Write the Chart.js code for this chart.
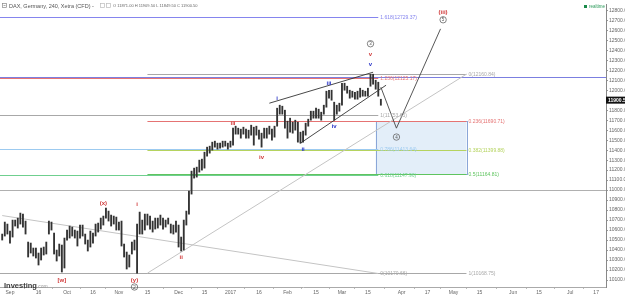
<!DOCTYPE html>
<html>
<head>
<meta charset="utf-8">
<script src="https://cdn.jsdelivr.net/npm/chart.js@4.4.0/dist/chart.umd.min.js"></script>
<style>
  html, body { margin: 0; padding: 0; background: #fff; }
  canvas { display: block; }
</style>
</head>
<body>
<canvas id="c" width="625" height="297"></canvas>
<script>
// trading calendar of the chart (weekdays, minus exchange holidays)
var firstDay = '2016-08-29';
var lastDay = '2017-07-31';
var holidays = ['2016-12-26'];

// daily low / high, Aug 29 2016 .. Mar 22 2017
var lows = [
  10500, 10540, 10560,
  // Sep
  10470, 10530, 10640, 10620, 10660, 10630, 10560, 10330, 10370, 10340, 10320,
  10250, 10300, 10350, 10360, 10560, 10600, 10360, 10290, 10340, 10180, 10220,
  // Oct
  10500, 10520, 10540, 10520, 10440, 10520, 10540, 10460, 10390, 10430, 10470,
  10540, 10580, 10610, 10650, 10720, 10690, 10640, 10660, 10600, 10600,
  // Nov
  10440, 10330, 10210, 10230, 10360, 10400, 10168, 10560, 10560, 10600, 10650,
  10610, 10580, 10610, 10620, 10650, 10610, 10630, 10660, 10570, 10560, 10580,
  // Dec
  10430, 10390, 10400, 10650, 10760, 10960, 11120, 11130, 11180, 11200, 11220,
  11340, 11370, 11400, 11430, 11410, 11420, 11430, 11440, 11410, 11430,
  // Jan
  11450, 11560, 11560, 11520, 11560, 11520, 11520, 11550, 11450, 11550, 11510,
  11430, 11520, 11520, 11560, 11500, 11530, 11640, 11760, 11760, 11620, 11520,
  // Feb
  11580, 11570, 11600, 11480, 11470, 11480, 11550, 11640, 11700, 11720, 11720,
  11720, 11700, 11760, 11830, 11920, 11900, 11700, 11760, 11790,
  // Mar
  11850, 12000, 11970, 11920, 11930, 11910, 11910, 11930, 11940, 11940, 11940,
  12040, 12060, 12010, 11940, 11849.5
];
var highs = [
  10560, 10680, 10660,
  // Sep
  10590, 10700, 10700, 10720, 10770, 10760, 10690, 10480, 10470, 10420, 10420,
  10370, 10420, 10430, 10480, 10690, 10680, 10570, 10400, 10460, 10450, 10520,
  // Oct
  10600, 10640, 10630, 10600, 10590, 10650, 10650, 10560, 10500, 10590, 10570,
  10660, 10670, 10720, 10740, 10820, 10790, 10750, 10740, 10730, 10680,
  // Nov
  10690, 10460, 10380, 10350, 10480, 10500, 10660, 10780, 10700, 10760, 10760,
  10740, 10690, 10720, 10720, 10750, 10720, 10700, 10720, 10660, 10650, 10690,
  // Dec
  10650, 10530, 10700, 10790, 10990, 11190, 11220, 11230, 11300, 11310, 11380,
  11430, 11440, 11480, 11490, 11470, 11470, 11490, 11490, 11470, 11490,
  // Jan
  11620, 11640, 11620, 11610, 11630, 11610, 11600, 11650, 11630, 11640, 11600,
  11570, 11620, 11620, 11640, 11610, 11640, 11820, 11850, 11840, 11800, 11690,
  // Feb
  11720, 11680, 11700, 11680, 11580, 11590, 11670, 11710, 11790, 11790, 11820,
  11810, 11780, 11850, 11990, 12000, 12000, 11880, 11850, 11870,
  // Mar
  12070, 12070, 12040, 12000, 11990, 11980, 11990, 12020, 12000, 11990, 12020,
  12160, 12160, 12100, 12080, 11909.5
];

var lastPrice = 11900.50;
var headerText = 'DAX, Germany, 240, Xetra (CFD) -';
var ohlcText = 'O 11871.00 H 11909.50 L 11849.50 C 11900.50';

// x axis tick labels
var tickDates = ['2016-09-01', '2016-09-16', '2016-10-03', '2016-10-17', '2016-10-31', '2016-11-15',
  '2016-12-01', '2016-12-15', '2016-12-30', '2017-01-16', '2017-01-31', '2017-02-15', '2017-03-01',
  '2017-03-15', '2017-04-03', '2017-04-17', '2017-05-01', '2017-05-15', '2017-06-01', '2017-06-15',
  '2017-07-03', '2017-07-17'];
var tickNames = ['Sep', '16', 'Oct', '16', 'Nov', '15', 'Dec', '15', '2017', '16', 'Feb', '15', 'Mar',
  '15', 'Apr', '17', 'May', '15', 'Jun', '15', 'Jul', '17'];

// y axis tick labels
var priceTicks = [];
for (var p = 10100; p <= 12800; p += 100) priceTicks.push(p);

// fib retracement 12160.84 -> 10168.75
var fibAFrom = '2016-11-15', fibATo = '2017-05-08';
var fibARatios = [0, 0.236, 0.382, 0.5, 1];
var fibAPrices = [12160.84, 11690.71, 11399.88, 11164.81, 10168.75];
var fibAColors = ['#a8a8a8', '#e57373', '#b5d35f', '#5fc45f', '#a8a8a8'];

// fib extension 10170.66 -> 11753.65 (extended left)
var fibBTo = '2017-03-21';
var fibBRatios = [1.618, 1.236, 1, 0.786, 0.618, 0];
var fibBPrices = [12729.37, 12125.17, 11753.65, 11413.64, 11147.96, 10170.66];
var fibBColors = ['#8585ee', '#e57373', '#a8a8a8', '#9ccaf0', '#6fcf8f', '#a8a8a8'];

// horizontal lines across the whole chart
var fullLinePrices = [12130, 11000];
var fullLineColors = ['#7b7fe0', '#b0b0b0'];

// target zone box
var boxFrom = '2017-03-20', boxTo = '2017-05-08';
var boxTop = 11690.71, boxBottom = 11164.81;

// trend lines [date, price] pairs
var wedgeUpper = [['2017-01-20', 11870], ['2017-03-17', 12180]];
var wedgeLower = [['2017-02-07', 11470], ['2017-03-24', 12050]];
var projection = [['2017-03-22', 12030], ['2017-03-30', 11620], ['2017-04-24', 12614]];
var downTrend = [['2016-08-29', 10745], ['2017-03-21', 10165]];

// Elliott wave labels
var waveText = ['(iii)', '5', '3', 'v', 'v', 'i', 'iii', 'iii', 'iv', 'iv', 'ii', '4', '(x)', 'i', 'ii', '[w]', '(y)', '2'];
var waveDate = ['2017-04-25', '2017-04-25', '2017-03-16', '2017-03-16', '2017-03-16', '2017-01-25', '2017-02-22',
  '2017-01-02', '2017-01-17', '2017-02-24', '2017-02-08', '2017-03-30', '2016-10-21', '2016-11-09', '2016-12-02',
  '2016-09-29', '2016-11-08', '2016-11-08'];
var wavePrice = [12775, 12705, 12465, 12356, 12256, 11918, 12067, 11670, 11332, 11640, 11412, 11531, 10865,
  10855, 10329, 10100, 10095, 10030];
var waveKind = ['red', 'circle', 'circle', 'red', 'blue', 'blue', 'blue', 'red', 'red', 'blue', 'blue', 'circle',
  'red', 'red', 'red', 'red', 'red', 'circle'];

var days = [];
var d = new Date(firstDay + 'T12:00:00Z');
var end = new Date(lastDay + 'T12:00:00Z');
while (d <= end) {
  var s = d.toISOString().slice(0, 10), wd = d.getUTCDay();
  if (wd !== 0 && wd !== 6 && holidays.indexOf(s) < 0) days.push(s);
  d.setUTCDate(d.getUTCDate() + 1);
}
function idx(s) { return days.indexOf(s); }

var bars = lows.map(function (l, i) { return { x: i, y: [l, highs[i]] }; });

var FONT = '"Liberation Sans", Arial, sans-serif';
var waveColors = { red: '#d03a3a', blue: '#2a35c8', circle: '#666' };

function seg(ctx, x0, y0, x1, y1, color) {
  ctx.strokeStyle = color;
  ctx.beginPath();
  ctx.moveTo(x0, y0);
  ctx.lineTo(x1, y1);
  ctx.stroke();
}

var overlay = {
  id: 'overlay',
  beforeDatasetsDraw: function (chart) {
    var ctx = chart.ctx, a = chart.chartArea, xs = chart.scales.x, ys = chart.scales.y;
    var X = function (dt) { return xs.getPixelForValue(idx(dt)); };
    var Y = function (v) { return Math.round(ys.getPixelForValue(v)) + 0.5; };
    ctx.save();
    ctx.beginPath();
    ctx.rect(a.left, a.top, a.right - a.left, a.bottom - a.top);
    ctx.clip();
    ctx.lineWidth = 1;

    fullLinePrices.forEach(function (v, i) { seg(ctx, a.left, Y(v), a.right, Y(v), fullLineColors[i]); });

    // box
    var bx0 = X(boxFrom), bx1 = X(boxTo), by0 = Y(boxTop), by1 = Y(boxBottom);
    ctx.fillStyle = 'rgba(208, 226, 245, 0.6)';
    ctx.fillRect(bx0, by0, bx1 - bx0, by1 - by0);
    ctx.strokeStyle = '#8aa6d8';
    ctx.strokeRect(Math.round(bx0) + 0.5, by0, Math.round(bx1 - bx0), by1 - by0);

    fibBPrices.forEach(function (v, i) { seg(ctx, a.left, Y(v), X(fibBTo), Y(v), fibBColors[i]); });
    fibAPrices.forEach(function (v, i) { seg(ctx, X(fibAFrom), Y(v), X(fibATo), Y(v), fibAColors[i]); });

    // fib trend diagonal and long down trend
    seg(ctx, X(fibAFrom), ys.getPixelForValue(fibAPrices[4]), X(fibATo), ys.getPixelForValue(fibAPrices[0]), '#c4c4c4');
    seg(ctx, X(downTrend[0][0]), ys.getPixelForValue(downTrend[0][1]),
      X(downTrend[1][0]), ys.getPixelForValue(downTrend[1][1]), '#c4c4c4');
    ctx.restore();
  },
  afterDatasetsDraw: function (chart) {
    var ctx = chart.ctx, xs = chart.scales.x, ys = chart.scales.y;
    var X = function (dt) { return xs.getPixelForValue(idx(dt)); };
    var Y = function (v) { return ys.getPixelForValue(v); };
    ctx.save();
    ctx.lineWidth = 0.9;
    [wedgeUpper, wedgeLower].forEach(function (ln) {
      seg(ctx, X(ln[0][0]), Y(ln[0][1]), X(ln[1][0]), Y(ln[1][1]), '#333');
    });
    ctx.strokeStyle = '#444';
    ctx.beginPath();
    projection.forEach(function (pt, i) {
      if (i === 0) ctx.moveTo(X(pt[0]), Y(pt[1])); else ctx.lineTo(X(pt[0]), Y(pt[1]));
    });
    ctx.stroke();

    // fib labels
    ctx.font = '5px ' + FONT;
    ctx.textBaseline = 'middle';
    ctx.textAlign = 'left';
    fibAPrices.forEach(function (v, i) {
      ctx.fillStyle = fibAColors[i];
      ctx.fillText(fibARatios[i] + '(' + v.toFixed(2) + ')', X(fibATo) + 2, Y(v) + 0.5);
    });
    fibBPrices.forEach(function (v, i) {
      ctx.fillStyle = fibBColors[i];
      ctx.fillText(fibBRatios[i] + '(' + v.toFixed(2) + ')', X(fibBTo) + 2, Y(v) + 0.5);
    });

    // wave labels
    ctx.textAlign = 'center';
    waveText.forEach(function (t, i) {
      var px = X(waveDate[i]), py = Y(wavePrice[i]);
      if (waveKind[i] === 'circle') {
        ctx.strokeStyle = '#666';
        ctx.lineWidth = 0.8;
        ctx.beginPath();
        ctx.arc(px, py, 3.2, 0, Math.PI * 2);
        ctx.stroke();
        ctx.fillStyle = '#555';
        ctx.font = '4.5px ' + FONT;
        ctx.fillText(t, px, py + 0.3);
      } else {
        ctx.fillStyle = waveColors[waveKind[i]];
        ctx.font = 'bold 6px ' + FONT;
        ctx.fillText(t, px, py);
      }
    });
    ctx.restore();
  },
  afterDraw: function (chart) {
    var ctx = chart.ctx, a = chart.chartArea, ys = chart.scales.y;
    ctx.save();
    // header
    ctx.strokeStyle = '#888';
    ctx.lineWidth = 0.7;
    ctx.strokeRect(2.5, 3.5, 4, 4);
    seg(ctx, 3.5, 5.5, 5.5, 5.5, '#888');
    ctx.fillStyle = '#555';
    ctx.font = '5.5px ' + FONT;
    ctx.textBaseline = 'middle';
    ctx.fillText(headerText, 9, 6);
    ctx.strokeStyle = '#bbb';
    ctx.strokeRect(100.5, 3.5, 4, 4);
    ctx.strokeRect(106.5, 3.5, 4, 4);
    ctx.font = '4px ' + FONT;
    ctx.fillStyle = '#666';
    ctx.fillText(ohlcText, 113, 6);

    // realtime badge
    ctx.fillStyle = '#1a8a4a';
    ctx.fillRect(584, 5, 3, 3);
    ctx.font = '4.5px ' + FONT;
    ctx.fillStyle = '#2a9a5a';
    ctx.fillText('realtime', 589, 6.5);

    // last price box
    var py = ys.getPixelForValue(lastPrice);
    ctx.fillStyle = '#111';
    ctx.fillRect(a.right, py - 3.5, 625 - a.right, 7);
    ctx.fillStyle = '#fff';
    ctx.font = 'bold 5px ' + FONT;
    ctx.fillText(lastPrice.toFixed(2), a.right + 2, py);

    // logo
    ctx.textBaseline = 'alphabetic';
    ctx.font = 'bold 7.5px ' + FONT;
    ctx.fillStyle = '#3a3a3a';
    ctx.fillText('Investing', 4, 288);
    var w = ctx.measureText('Investing').width;
    ctx.font = '5px ' + FONT;
    ctx.fillStyle = '#999';
    ctx.fillText('.com', 4 + w, 288);
    ctx.restore();
  }
};

new Chart(document.getElementById('c'), {
  type: 'bar',
  data: {
    datasets: [{
      data: bars,
      backgroundColor: '#333',
      borderWidth: 0,
      barThickness: 1.2
    }]
  },
  options: {
    responsive: false,
    animation: false,
    events: [],
    layout: { padding: 0 },
    plugins: { legend: { display: false }, tooltip: { enabled: false } },
    scales: {
      x: {
        type: 'linear',
        min: -0.85,
        max: 232.8,
        offset: false,
        grid: { display: true, drawOnChartArea: false, tickLength: 2, color: '#bbb' },
        border: { color: '#aaa' },
        ticks: {
          font: { size: 5, family: FONT },
          color: '#666',
          padding: 1,
          autoSkip: false,
          maxRotation: 0,
          callback: function (v, i) { return tickNames[i]; }
        },
        afterBuildTicks: function (s) { s.ticks = tickDates.map(function (dt) { return { value: idx(dt) }; }); }
      },
      y: {
        position: 'right',
        min: 10030,
        max: 12863,
        grid: { display: true, drawOnChartArea: false, tickLength: 2, color: '#999' },
        border: { color: '#888' },
        ticks: {
          font: { size: 5, family: FONT },
          color: '#666',
          padding: 1,
          callback: function (v) { return v === 11900 ? '' : v.toFixed(2); }
        },
        afterBuildTicks: function (s) { s.ticks = priceTicks.map(function (v) { return { value: v }; }); },
        afterFit: function (s) { s.width = 19; }
      }
    }
  },
  plugins: [overlay]
});
</script>
</body>
</html>
